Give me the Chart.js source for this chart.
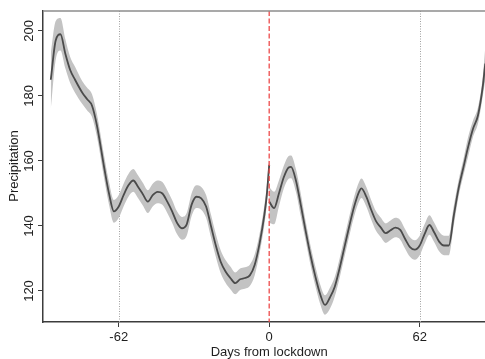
<!DOCTYPE html>
<html>
<head>
<meta charset="utf-8">
<script src="https://cdn.jsdelivr.net/npm/chart.js@4.4.1/dist/chart.umd.min.js"></script>
<style>
  html, body { margin: 0; padding: 0; background: #ffffff; }
  #c { display: block; }
</style>
</head>
<body>
<canvas id="c" width="485" height="359"></canvas>
<script>
// ---- data ----
const xTicks = [-62, 0, 62];
const yTicks = [120, 140, 160, 180, 200];
const periodLines = [-62, 62];
const lockdownDay = 0;
const xTitle = "Days from lockdown";
const yTitle = "Precipitation";

const preDays = [-90,-88,-86,-84,-82,-80,-77,-75,-73,-71,-68,-66,-64,-62,-60,-58,-56,-54,-52,-50,-48,-46,-44,-42,-40,-38,-36,-34,-32,-30,-28,-26,-24,-22,-20,-18,-16,-14,-12,-10,-8,-6,-4,-2,-1,0];
const preMean = [185,197,199,193,188,185,181,179,177,171,158,150,144.5,146,149.5,152.5,154,152,149.7,147.5,149.5,150.5,150,147.5,144.5,141,139.3,140.5,146.5,149,148.5,146,140,134,129,126,124,122.4,123.6,124,124.8,128,134.5,143.4,149.5,158.8];
const preLow  = [176,191,194,188.5,184,181,177.5,175.5,173.5,167.5,154.5,146.5,141,142.5,146,149,150.5,148.5,146.2,144,146,147,146.5,144,141,137.5,135.8,137,143,145.5,145,142.5,136.5,130.5,125.5,122.5,120.5,119,120.3,120.7,121.5,124.8,131.5,140.4,146.5,155.8];
const preHigh = [193,203,204,197.5,192,189,184.5,182.5,180.5,174.5,161.5,153.5,148,149.5,153,156,157.5,155.5,153.2,151,153,154,153.5,151,148,144.5,142.8,144,150,152.5,152,149.5,143.5,137.5,132.5,129.5,127.5,125.7,126.9,127.3,128.1,131.2,137.5,146.4,152.5,161.8];

const postDays = [0,2,4,6,8,9,11,13,15,17,19,21,23,25,27,29,31,33,35,37,38,40,42,44,46,48,50,52,54,56,58,60,62,64,66,68,70,72,74,76,78,80,82,84,86,88,89];
const postMean = [147.5,145.5,150,155,158,158.2,154,146.5,138.5,131,124.5,119,115.7,118,121.3,127,133.5,140,146,150.5,151.6,149,145,141.5,139.5,137.8,138.7,139.5,138.8,136,133.5,132.7,134,137.5,140.3,138,135.2,134,134,143,151.5,158,164.5,170,174,183,190];
const postLow  = [141,140.5,146,151.5,154.5,154.7,150.5,143,135.5,128,121.5,116,112.7,114.5,118.3,124,130.5,137,143,147.5,148.6,146,142,138.5,136.5,134.8,135.7,136.5,135.8,133,130.5,129.6,131,134.5,137.3,135,132.2,131,131,140,149,155.5,161.5,167.5,171.5,180,185];
const postHigh = [152,150.5,154,158.5,161.5,161.7,157.5,150,141.5,134,127.5,122,118.7,121,124.3,130,136.5,143,149,153.5,154.6,152,148,144.5,142.5,140.8,141.7,142.5,141.8,139,136.5,135.6,137,140.5,143.3,141,138.2,137,137,146,154,160.5,167.5,172.5,176.5,186,195];

// ---- helpers ----
const pts = (xs, ys) => xs.map((d, i) => ({ x: d, y: ys[i] }));
const bandColor = '#c3c3c3';
const lineColor = '#4b4b4b';
const common = { pointRadius: 0, cubicInterpolationMode: 'monotone', borderJoinStyle: 'round' };

const FONT = '13px "Liberation Sans", Arial, Helvetica, sans-serif';
const TEXT = '#1e1e1e';
const AXIS = '#3c3c3c';

const decorPlugin = {
  id: 'decor',
  beforeDatasetsDraw(chart) {
    const { ctx, chartArea: { top, bottom }, scales: { x } } = chart;
    ctx.save();
    ctx.strokeStyle = '#a0a0a0';
    ctx.lineWidth = 1;
    ctx.setLineDash([1, 1.5]);
    periodLines.forEach(d => {
      const px = Math.round(x.getPixelForValue(d)) + 0.5;
      ctx.beginPath(); ctx.moveTo(px, top); ctx.lineTo(px, bottom); ctx.stroke();
    });
    ctx.restore();
  },
  afterDatasetsDraw(chart) {
    const { ctx, chartArea: { top, bottom }, scales: { x } } = chart;
    ctx.save();
    ctx.strokeStyle = 'rgba(236,70,70,0.85)';
    ctx.lineWidth = 1.5;
    ctx.setLineDash([5, 2.5]);
    const px = x.getPixelForValue(lockdownDay);
    ctx.beginPath(); ctx.moveTo(px, top); ctx.lineTo(px, bottom); ctx.stroke();
    ctx.restore();
  },
  afterDraw(chart) {
    const { ctx, chartArea: { top, bottom, left, right }, scales: { x, y } } = chart;
    ctx.save();
    ctx.strokeStyle = '#8c8c8c';
    ctx.lineWidth = 1.5;
    ctx.beginPath(); ctx.moveTo(left, top); ctx.lineTo(right, top); ctx.stroke();

    ctx.fillStyle = TEXT;
    ctx.font = FONT;
    ctx.textAlign = 'center';
    ctx.textBaseline = 'alphabetic';
    xTicks.forEach(t => ctx.fillText(String(t), x.getPixelForValue(t), 341));
    ctx.fillText(xTitle, x.getPixelForValue(0), 355.5);
    yTicks.forEach(t => {
      ctx.save();
      ctx.translate(33.3, y.getPixelForValue(t));
      ctx.rotate(-Math.PI / 2);
      ctx.textAlign = 'center';
      ctx.fillText(String(t), 0, 0);
      ctx.restore();
    });
    ctx.save();
    ctx.translate(17.6, 166);
    ctx.rotate(-Math.PI / 2);
    ctx.textAlign = 'center';
    ctx.fillText(yTitle, 0, 0);
    ctx.restore();
    ctx.restore();
  }
};

new Chart(document.getElementById('c'), {
  type: 'line',
  data: {
    datasets: [
      { order: 0, data: pts(preDays, preMean), fill: false, borderColor: lineColor, borderWidth: 1.8, ...common },
      { order: 0, data: pts(postDays, postMean), fill: false, borderColor: lineColor, borderWidth: 1.8, ...common },
      { order: 1, data: pts(preDays, preHigh), fill: '+1', backgroundColor: bandColor, borderWidth: 0, borderColor: bandColor, ...common },
      { order: 1, data: pts(preDays, preLow), fill: false, borderWidth: 0, borderColor: bandColor, ...common },
      { order: 1, data: pts(postDays, postHigh), fill: '+1', backgroundColor: bandColor, borderWidth: 0, borderColor: bandColor, ...common },
      { order: 1, data: pts(postDays, postLow), fill: false, borderWidth: 0, borderColor: bandColor, ...common }
    ]
  },
  options: {
    responsive: false,
    animation: false,
    events: [],
    layout: { padding: { top: 11, right: 0, left: 0, bottom: 0 } },
    plugins: { legend: { display: false }, tooltip: { enabled: false } },
    scales: {
      x: {
        type: 'linear',
        min: -93.2,
        max: 88.9,
        afterBuildTicks: s => { s.ticks = xTicks.map(v => ({ value: v })); },
        afterFit: s => { s.height = 37; },
        ticks: { display: false },
        grid: { display: true, drawOnChartArea: false, drawTicks: true, tickLength: 5, tickColor: AXIS, color: AXIS, lineWidth: 1 },
        border: { display: true, color: AXIS, width: 1.5 }
      },
      y: {
        type: 'linear',
        min: 110.46,
        max: 206.15,
        afterBuildTicks: s => { s.ticks = yTicks.map(v => ({ value: v })); },
        afterFit: s => { s.width = 43; },
        ticks: { display: false },
        grid: { display: true, drawOnChartArea: false, drawTicks: true, tickLength: 5, tickColor: AXIS, color: AXIS, lineWidth: 1 },
        border: { display: true, color: AXIS, width: 1.5 }
      }
    }
  },
  plugins: [decorPlugin]
});
</script>
</body>
</html>
